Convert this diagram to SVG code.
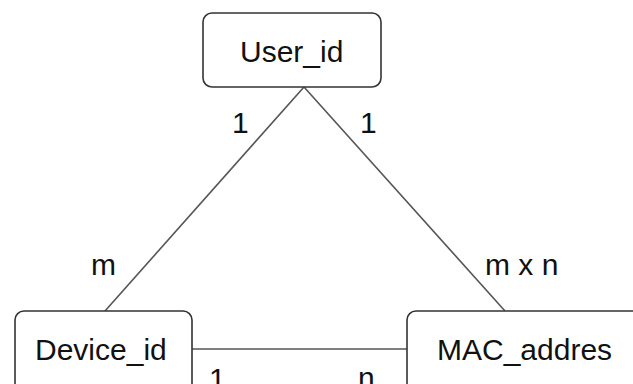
<svg xmlns="http://www.w3.org/2000/svg" width="633" height="384" viewBox="0 0 633 384">
<style>
.box{fill:#fff;stroke:#333;stroke-width:1.6}
.lbl{font-family:"Liberation Sans",Arial,sans-serif;font-size:30px;fill:#111}
.conn{stroke:#555;stroke-width:1.6;fill:none}
</style>
<rect width="633" height="384" fill="#fff"/>
<g id="connectors">
<line class="conn" x1="304" y1="87" x2="105" y2="311"/>
<line class="conn" x1="304" y1="87" x2="505" y2="311"/>
<line class="conn" x1="192" y1="349" x2="407" y2="349"/>
<text class="lbl" x="232" y="133">1</text>
<text class="lbl" x="360" y="133">1</text>
<text class="lbl" x="91" y="275">m</text>
<text class="lbl" x="485" y="275">m x n</text>
<text class="lbl" x="209" y="389">1</text>
<text class="lbl" x="358" y="388">n</text>
</g>
<g id="user_id">
<rect class="box" x="203" y="13" width="178" height="74" rx="9"/>
<text class="lbl" x="240" y="62">User_id</text>
</g>
<g id="device_id">
<rect class="box" x="15" y="311" width="177" height="90" rx="9"/>
<text class="lbl" x="35" y="360">Device_id</text>
</g>
<g id="mac_addres">
<rect class="box" x="407" y="311" width="240" height="90" rx="9"/>
<text class="lbl" x="437" y="360">MAC_addres</text>
</g>
</svg>
